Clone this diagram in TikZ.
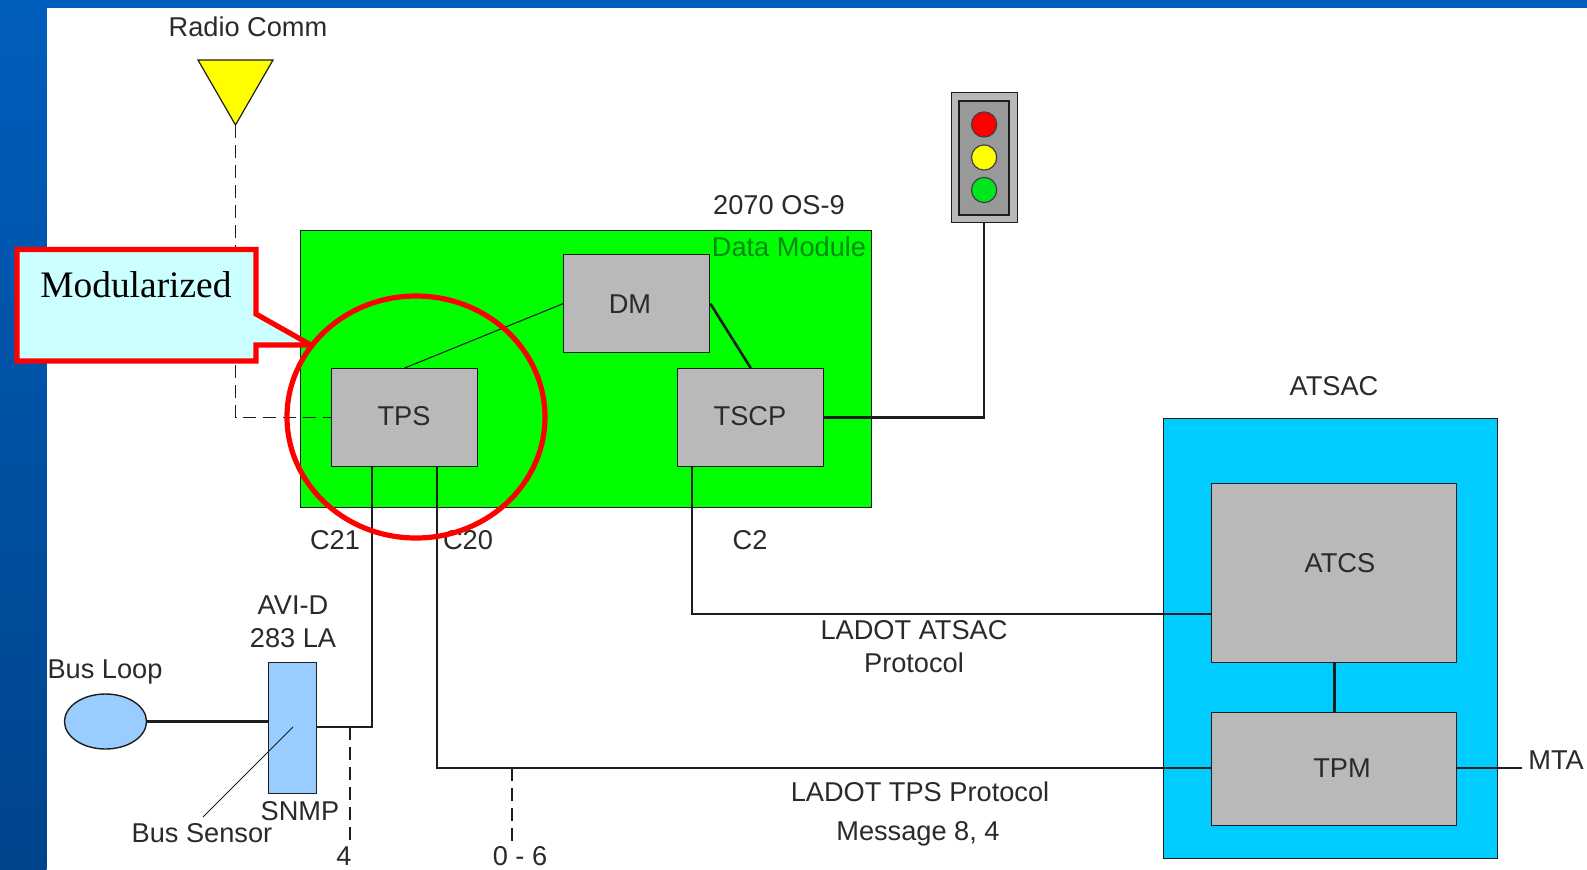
\documentclass[tikz,border=0pt]{standalone}
\usepackage{fontspec}
\setmainfont{Liberation Sans}
\newfontfamily\serifcall{Liberation Serif}
\usetikzlibrary{shapes.geometric}
\definecolor{lineC}{HTML}{1E1E1E}
\definecolor{txtC}{HTML}{2A2A2A}
\definecolor{boxGrey}{HTML}{B9B9B9}
\definecolor{bandTop}{HTML}{005EBC}
\definecolor{bandBot}{HTML}{00448C}
\definecolor{boardG}{HTML}{00FF00}
\definecolor{siteB}{HTML}{00CCFF}
\definecolor{sensorB}{HTML}{99CCFF}
\definecolor{callF}{HTML}{CCFFFF}
\definecolor{dataG}{HTML}{008A10}
\definecolor{pureY}{HTML}{FFFF00}
\definecolor{lampG}{HTML}{00E61E}
\tikzset{
  lab/.style={font=\fontsize{13.6}{16.3}\selectfont,text=txtC,inner sep=0pt,align=center},
  greybox/.style={draw=lineC,line width=0.7pt,fill=boxGrey,inner sep=0pt},
  wire/.style={draw=lineC,line width=1.3pt},
  dashwire/.style={draw=lineC,line width=0.7pt,dash pattern=on 6.5pt off 3.5pt},
  lamp/.style={circle,draw=black!75,line width=0.6pt,minimum size=12.6pt,inner sep=0pt}
}
\begin{document}
\begin{tikzpicture}[x=0.5pt,y=-0.5pt]
\useasboundingbox (0,0) rectangle (1587,869);
% slide background
\fill[white] (0,0) rectangle (1587,869);
\fill[bandTop] (0,0) rectangle (1587,8);
\shade[top color=bandTop,bottom color=bandBot] (0,0) rectangle (46.5,869);
% antenna
\node[lab] (radio) at (248,27) {Radio Comm};
\coordinate (antL) at (198,60);
\coordinate (antR) at (273,60);
\coordinate (antT) at (235.5,125);
\fill[pureY,draw=lineC,line width=0.6pt] (antL) -- (antR) -- (antT) -- cycle;
% board
\node[draw=lineC,line width=0.7pt,fill=boardG,minimum width=285.5pt,minimum height=138.5pt,inner sep=0pt,anchor=north west] (board) at (300,230) {};
\node[lab,text=dataG] (dmlab) at (789,247) {Data Module};
\node[lab] (oslab) at (779,205) {2070 OS-9};
% grey boxes
\node[greybox,minimum width=73pt,minimum height=49pt,anchor=north west] (tps) at (331,368) {};
\node[lab] (tpst) at (404,416.5) {TPS};
\node[greybox,minimum width=73pt,minimum height=49pt,anchor=north west] (dm) at (563,254) {};
\node[lab] (dmt) at (630,304.5) {DM};
\node[greybox,minimum width=73pt,minimum height=49pt,anchor=north west] (tscp) at (677,368) {};
\node[lab] (tscpt) at (750,416.5) {TSCP};
% traffic light
\node[draw=lineC,line width=0.6pt,fill=boxGrey,minimum width=33pt,minimum height=65pt,inner sep=0pt,anchor=north west] (sigout) at (950.5,92) {};
\node[draw=lineC,line width=0.9pt,fill=black!40,minimum width=25pt,minimum height=57pt,inner sep=0pt] (sigin) at (sigout.center) {};
\node[lamp,fill=red] (lr) at (sigout.center |- 0,124.5) {};
\node[lamp,fill=pureY] (ly) at (sigout.center |- 0,157.5) {};
\node[lamp,fill=lampG] (lg) at (sigout.center |- 0,190) {};
% wires in board
\draw[line width=0.55pt,draw=lineC] (tps.north) -- (dm.west);
\draw[wire] (dm.east) -- (tscp.north);
% tscp to signal
\draw[wire] (tscp.east) -| (sigout.south);
% radio dashed
\draw[dashwire] (antT) |- (tps.west);
% ATSAC
\node[lab] (atsaclab) at (1334,386) {ATSAC};
\node[draw=lineC,line width=0.7pt,fill=siteB,minimum width=167pt,minimum height=220pt,inner sep=0pt,anchor=north west] (atsac) at (1163,418) {};
\node[greybox,minimum width=122.5pt,minimum height=89.5pt,anchor=north west] (atcs) at (1211,482.5) {};
\node[lab] (atcst) at (1340,563) {ATCS};
\node[greybox,minimum width=122.5pt,minimum height=56.5pt,anchor=north west] (tpm) at (1211,711.5) {};
\node[lab] (tpmt) at (1342,768) {TPM};
\draw[wire] (atcs.south) -- (tpm.north);
% MTA
\node[lab,anchor=west] (mta) at (1528,760) {MTA};
\coordinate (mtaend) at (1522,768);
\draw[wire] (tpm.east |- mtaend) -- (mtaend);
% sensor
\node[draw=lineC,line width=0.7pt,fill=sensorB,ellipse,minimum width=41pt,minimum height=27.5pt,inner sep=0pt] (loop) at (105.5,721.5) {};
\node[draw=lineC,line width=0.7pt,fill=sensorB,minimum width=24pt,minimum height=65.5pt,inner sep=0pt,anchor=north west] (avi) at (268,662) {};
\draw[wire] (loop.east) -- (loop.east -| avi.west);
\node[lab] (busloop) at (105,671.5) {Bus Loop};
\node[lab] (avilab) at (293,621.5) {AVI-D\\283 LA};
\node[lab] (snmp) at (300,811.5) {SNMP};
\node[lab] (bussensor) at (202,833) {Bus Sensor};
\coordinate (bsA) at (203,817);
\coordinate (bsB) at (293,727);
\draw[line width=0.5pt,draw=lineC] (bsA) -- (bsB);
% C21 / C20 lines
\coordinate (c21c) at (372,727);
\coordinate (c20c) at (437,768);
\draw[wire] (avi.east |- c21c) -- (c21c) -- (c21c |- tps.south);
\draw[wire] (tpm.west |- c20c) -- (c20c) -- (c20c |- tps.south);
% C2 line
\coordinate (c2c) at (692,614);
\draw[wire] (atcs.west |- c2c) -- (c2c) -- (c2c |- tscp.south);
% dashed drops
\coordinate (d4a) at (350,727);
\coordinate (d4b) at (350,841);
\coordinate (d6a) at (512,768);
\coordinate (d6b) at (512,841);
\draw[dashwire] (d4a) -- (d4b);
\draw[dashwire] (d6a) -- (d6b);
% labels
\node[lab] (c21) at (335,540) {C21};
\node[lab] (c20) at (468,540) {C20};
\node[lab] (c2) at (750,540) {C2};
\node[lab] (ladot1) at (914,646.5) {LADOT ATSAC\\Protocol};
\node[lab] (ladot2) at (920,791.5) {LADOT TPS Protocol};
\node[lab] (msg) at (918,834) {Message 8, 4};
\node[lab] (four) at (344,856) {4};
\node[lab] (zs) at (520,856) {0 - 6};
% callout
\coordinate (calltip) at (311,345);
\draw[draw=red,line width=2.6pt,fill=callF,line join=miter,miter limit=2]
  (17,249.5) -- (256,249.5) -- (256,314) -- (calltip) -- (256,345) -- (256,361) -- (17,361) -- cycle;
\node[font=\serifcall\fontsize{18.7}{22}\selectfont,text=black,inner sep=0pt,anchor=west] (mod) at (40,285) {Modularized};
% red circle
\node[ellipse,draw=red,line width=2.6pt,minimum width=129pt,minimum height=121pt,inner sep=0pt] (ring) at (416,417) {};
\end{tikzpicture}
\end{document}
